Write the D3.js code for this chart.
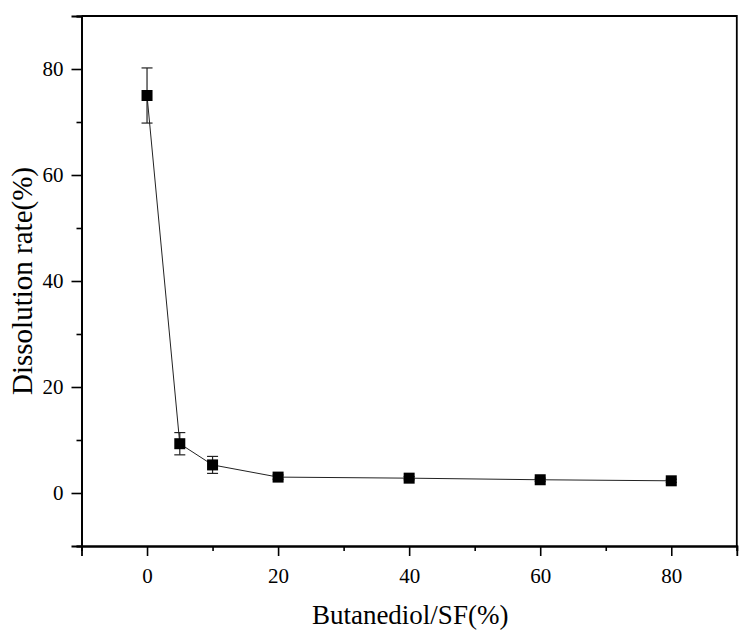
<!DOCTYPE html>
<html>
<head>
<meta charset="utf-8">
<script src="https://cdn.jsdelivr.net/npm/d3@7/dist/d3.min.js"></script>
<style>
  html, body { margin: 0; padding: 0; background: #fff; }
  svg { display: block; }
</style>
</head>
<body>
<svg id="chart" width="755" height="639"></svg>
<script>
// Data
const butanediol = [0, 5, 10, 20, 40, 60, 80];
const dissolution = [75, 9.3, 5.3, 3.0, 2.8, 2.5, 2.3];
const errors = [5.2, 2.1, 1.6, 0.4, 0.3, 0.3, 0.3];
const xMajorTicks = [0, 20, 40, 60, 80];
const xMinorTicks = [-10, 10, 30, 50, 70, 90];
const yMajorTicks = [0, 20, 40, 60, 80];
const yMinorTicks = [-10, 10, 30, 50, 70, 90];
const xTitle = "Butanediol/SF(%)";
const yTitle = "Dissolution rate(%)";

const svg = d3.select("#chart");
const L = 81.5, R = 736.8, T = 16, B = 546;
const font = "'Liberation Serif', 'Times New Roman', serif";

const x = d3.scaleLinear().domain([-10, 90]).range([L, R]);
const y = d3.scaleLinear().domain([-10, 90]).range([B, T]);

// Frame (top & right)
svg.append("path")
  .attr("d", `M${L},${T}H${R}V${B}`)
  .attr("fill", "none").attr("stroke", "#000").attr("stroke-width", 1.8);

// Bottom axis
const gx = svg.append("g").attr("transform", `translate(0,${B})`);
gx.call(d3.axisBottom(x).tickValues(xMajorTicks).tickSize(10).tickPadding(12).tickFormat(d3.format("d")));
gx.append("g").call(d3.axisBottom(x).tickValues(xMinorTicks).tickSize(5).tickFormat(""));
gx.selectAll(".domain").attr("stroke-width", 1.8);
gx.selectAll(".tick line").attr("stroke-width", 1.6);
gx.selectAll("text").attr("font-family", font).attr("font-size", 21).attr("fill", "#000");

// Left axis
const gy = svg.append("g").attr("transform", `translate(${L},0)`);
gy.call(d3.axisLeft(y).tickValues(yMajorTicks).tickSize(10).tickPadding(8).tickFormat(d3.format("d")));
gy.append("g").call(d3.axisLeft(y).tickValues(yMinorTicks).tickSize(5).tickFormat(""));
gy.selectAll(".domain").attr("stroke-width", 1.8);
gy.selectAll(".tick line").attr("stroke-width", 1.6);
gy.selectAll("text").attr("font-family", font).attr("font-size", 21).attr("fill", "#000");

// Titles
svg.append("text")
  .attr("x", (x(-10) + x(90)) / 2 + 1).attr("y", 624)
  .attr("text-anchor", "middle")
  .attr("font-family", font).attr("font-size", 27).attr("fill", "#000")
  .text(xTitle);
svg.append("text")
  .attr("transform", `translate(32,${(T + B) / 2}) rotate(-90)`)
  .attr("text-anchor", "middle")
  .attr("font-family", font).attr("font-size", 29).attr("fill", "#000")
  .text(yTitle);

const data = butanediol.map((d, i) => ({ x: d, y: dissolution[i], e: errors[i] }));

// Line
svg.append("path")
  .datum(data)
  .attr("d", d3.line().x(d => x(d.x)).y(d => y(d.y)))
  .attr("fill", "none").attr("stroke", "#222").attr("stroke-width", 1);

// Error bars
const eb = svg.append("g").attr("stroke", "#222").attr("stroke-width", 1.2);
data.forEach(d => {
  const cx = x(d.x), y1 = y(d.y + d.e), y2 = y(d.y - d.e);
  eb.append("line").attr("x1", cx).attr("x2", cx).attr("y1", y1).attr("y2", y2);
  eb.append("line").attr("x1", cx - 5.5).attr("x2", cx + 5.5).attr("y1", y1).attr("y2", y1);
  eb.append("line").attr("x1", cx - 5.5).attr("x2", cx + 5.5).attr("y1", y2).attr("y2", y2);
});

// Markers
const s = 11;
svg.append("g").selectAll("rect").data(data).join("rect")
  .attr("x", d => x(d.x) - s / 2).attr("y", d => y(d.y) - s / 2)
  .attr("width", s).attr("height", s).attr("fill", "#000");
</script>
</body>
</html>
